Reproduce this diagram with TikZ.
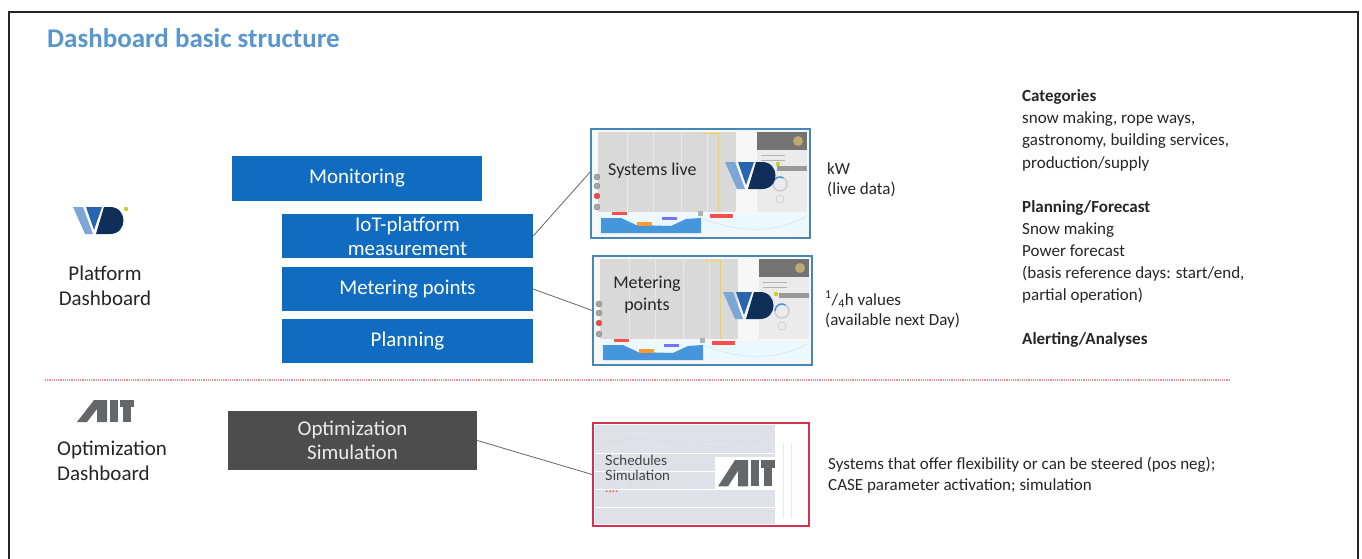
\documentclass[tikz,border=0pt]{standalone}
\usepackage{fontspec}
\setmainfont{Carlito}
\newfontfamily\latofont{Lato}

\definecolor{titleblue}{RGB}{88,150,205}
\definecolor{boxblue}{RGB}{16,108,192}
\definecolor{boxgray}{RGB}{77,77,77}
\definecolor{textgray}{RGB}{38,38,38}
\definecolor{wdlight}{RGB}{125,165,214}
\definecolor{wdmid}{RGB}{40,100,175}
\definecolor{wdnavy}{RGB}{16,46,90}
\definecolor{wdgreen}{RGB}{190,210,40}
\definecolor{aitgray}{RGB}{100,102,105}
\definecolor{frameblue}{RGB}{70,135,185}
\definecolor{framered}{RGB}{210,50,80}
\definecolor{sepred}{RGB}{240,140,140}
\definecolor{chartblue}{RGB}{70,150,220}
\definecolor{tan}{RGB}{190,170,110}
\definecolor{simbg}{RGB}{222,226,232}

\tikzset{
  wdlogo/.pic={
    \fill[wdlight] (0,0) -- (10,0) -- (20,27) -- (12,27) -- cycle;
    \fill[wdmid] (13,0) -- (29,0) -- (21,23) -- cycle;
    \fill[wdnavy] (31,0) -- (37,0) .. controls (55,0) and (55,27) .. (37,27) -- (23,27) -- cycle;
    \fill[wdgreen] (53,2) circle (2.2);
  },
  aitlogo/.pic={
    \fill[aitgray] (0,22) -- (10,22) -- (20,9) -- (20,22) -- (30,22) -- (30,0) -- (17,0) -- cycle;
    \fill[aitgray] (33,0) rectangle (41,22);
    \fill[aitgray] (43,0) rectangle (57,7);
    \fill[aitgray] (46,0) rectangle (54,22);
  }
}

% one dashboard screenshot, 219 x 109, origin top left
\newcommand{\dashview}{%
  \fill[black!3] (0,0) rectangle (219,109);
  \fill[black!15] (7,3) rectangle (145,83);
  \foreach \x in {36,62,90,116}
    \draw[black!9, line width=0.6pt] (\x,3) -- (\x,83);
  \draw[yellow!60!orange!80, line width=0.8pt] (112,4) -- (127,4) -- (127,83);
  \fill[black!55] (166,3) rectangle (216,21);
  \fill[tan] (207,12) circle (5);
  \fill[black!8] (166,21) rectangle (216,83);
  \foreach \y in {26,31}
    \draw[black!30, line width=1pt] (170,\y) -- (194,\y);
  \fill[black!40] (186,37) rectangle (216,42);
  \draw[black!20, line width=1.5pt] (189,55) circle (7);
  \draw[chartblue, line width=1.5pt] (182,55) arc[start angle=180, end angle=300, radius=7];
  \draw[black!25] (189,70) circle (4);
  \fill[cyan!8] (7,85) rectangle (216,104);
  \fill[chartblue] (10,104) -- (10,89) -- (30,89) -- (45,96) -- (80,97) -- (95,90) -- (110,89) -- (110,104) -- cycle;
  \draw[black!15] (112,90) .. controls (150,104) and (185,104) .. (214,88);
  \fill[red!70] (21,83) rectangle (36,86);
  \fill[orange!80] (46,93) rectangle (61,97);
  \fill[blue!55] (71,88) rectangle (86,91);
  \fill[red!70] (119,85) rectangle (142,89);
  \fill[black!30] (107,82) rectangle (112,87);
  \foreach \y/\c in {48/black!35,57/black!35,67/red!75,78/black!35}
    \filldraw[draw=black!50, fill=\c] (6,\y) circle (3);
}

\begin{document}
\begin{tikzpicture}[x=1pt,y=-1pt,
  bluebox/.style={fill=boxblue, text=white, minimum width=251pt, minimum height=44pt,
    inner sep=0pt, align=center, font=\fontsize{21}{24}\selectfont},
  graybox/.style={bluebox, fill=boxgray, text=white!92!black, minimum width=249pt, minimum height=59pt},
  shot/.style={draw=frameblue, line width=1.5pt, minimum width=219pt, minimum height=109pt, inner sep=0pt},
  note/.style={anchor=base west, inner sep=0pt, text=textgray, font=\fontsize{17}{22}\selectfont},
  label/.style={anchor=base, inner sep=0pt, text=textgray, font=\fontsize{21}{25}\selectfont},
  shottext/.style={anchor=base, inner sep=0pt, text=textgray, font=\fontsize{18}{22}\selectfont},
  simtext/.style={anchor=base west, inner sep=0pt, text=black!75, font=\latofont\fontsize{14}{14}\selectfont},
  link/.style={draw=black!60, line width=0.8pt}]
\useasboundingbox (0,0) rectangle (1362,559);
\fill[white] (0,0) rectangle (1362,559);
\draw[black!85, line width=2.5pt] (9,600) -- (9,12) -- (1358,12) -- (1358,600);

\node[anchor=base west, inner sep=0pt, text=titleblue, font=\fontsize{27}{32}\selectfont\bfseries] (title) at (47,48) {Dashboard basic structure};

% platform dashboard
\pic at (73,207) {wdlogo};
\node[label, align=center] (platform) at (105,305) {Platform\\Dashboard};

\node[bluebox, minimum width=250pt, minimum height=45pt] (monitor) at (357,178.5) {Monitoring};
\node[bluebox] (iot) at (407.5,236) {IoT-platform\\measurement};
\node[bluebox] (meter) at (407.5,289) {Metering points};
\node[bluebox] (plan) at (407.5,341) {Planning};

\begin{scope}[shift={(591,129)}]
\dashview
\pic at (134,33) {wdlogo};
\node[shottext, anchor=base west] (liveTxt) at (17,46) {Systems live};
\end{scope}
\node[shot] (shotA) at (700.5,183.5) {};

\begin{scope}[shift={(593,256)}]
\dashview
\pic at (130,36) {wdlogo};
\node[shottext] (meterTxt1) at (54,32) {Metering};
\node[shottext] (meterTxt2) at (54,54) {points};
\end{scope}
\node[shot] (shotB) at (702.5,310.5) {};

\node[note] (kw1) at (827,174) {kW};
\node[note] (kw2) at (827,194) {(live data)};
\node[note] (qh1) at (825,305) {\textsuperscript{1}/\textsubscript{4}h values};
\node[note] (qh2) at (825,325) {(available next Day)};

\foreach \y/\texto in {102/{\textbf{Categories}},124/{snow making, rope ways,},146/{gastronomy, building services,},168/{production/supply},212/{\textbf{Planning/Forecast}},234/{Snow making},256/{Power forecast},278/{(basis reference days: start/end,},300/{partial operation)},344/{\textbf{Alerting/Analyses}}}
\node[note] (cat\y) at (1022,\y) {\texto};

\draw[densely dotted, sepred, line width=1.2pt] (45,380) -- (1230,380);

% optimization dashboard
\pic at (77,400) {aitlogo};
\node[label, anchor=base west, align=left] (optim) at (57,480) {Optimization\\Dashboard};

\node[graybox] (opt) at (352.5,440.5) {Optimization\\Simulation};

\begin{scope}[shift={(593,423)}]
\fill[white] (0,0) rectangle (216,103);
\fill[simbg] (2,2) rectangle (182,101);
\draw[black!15] (10,18) .. controls (60,14) and (120,22) .. (175,16);
\foreach \y in {30,48,66,84}
  \draw[white, line width=0.8pt] (2,\y) -- (182,\y);
\foreach \x in {190,198}
  \draw[blue!10] (\x,20) -- (\x,95);
\node[simtext] (schedTxt) at (12,42) {Schedules};
\node[simtext] (simTxt) at (12,57) {Simulation};
\node[simtext, text=red!70] (dotsTxt) at (12,69) {....};
\fill[white] (122,34) rectangle (184,67);
\pic[yscale=1.2] at (125,37) {aitlogo};
\end{scope}
\node[shot, draw=framered, minimum width=216pt, minimum height=103pt] (shotC) at (701,474.5) {};

\node[note] (flex1) at (828,469) {Systems that offer flexibility or can be steered (pos neg);};
\node[note] (flex2) at (828,490) {CASE parameter activation; simulation};

\draw[link] (iot.east) -- (shotA.174);
\draw[link] (meter.east) -- (shotB.west);
\draw[link] (opt.east) -- (shotC.west);
\end{tikzpicture}
\end{document}
